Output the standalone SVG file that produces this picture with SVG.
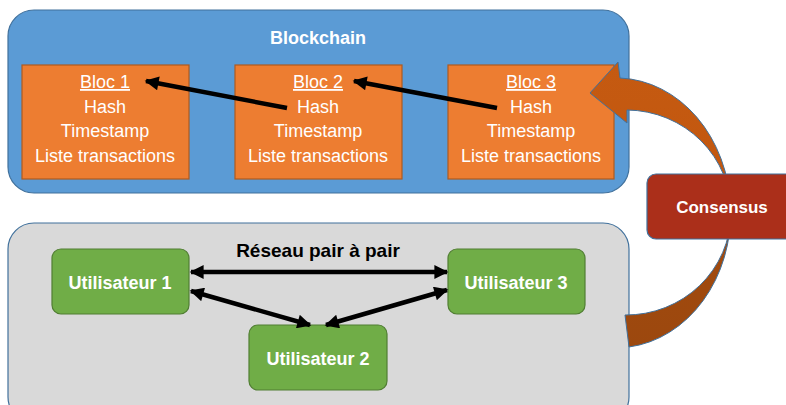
<svg xmlns="http://www.w3.org/2000/svg" width="786" height="405" viewBox="0 0 786 405">
<defs>
<style>
.cont{stroke:#41719C;stroke-width:1.2}
.bloc{fill:#ED7D31;stroke:#AE5A21;stroke-width:1.2}
.user{fill:#70AD47;stroke:#507E32;stroke-width:1.2}
.t{font-family:"Liberation Sans",Arial,sans-serif;fill:#fff;text-anchor:middle;font-size:18px}
.b{font-weight:bold}
.link{stroke:#000;stroke-width:4.5;fill:none}
</style>
<marker id="ah" viewBox="0 0 10 10" refX="9" refY="5" markerWidth="16" markerHeight="14" markerUnits="userSpaceOnUse" orient="auto-start-reverse">
<path d="M0,0 L10,5 L0,10 z" fill="#000"/>
</marker>
<linearGradient id="cg" x1="0" y1="0" x2="0" y2="1">
<stop offset="0" stop-color="#C55A11"/>
<stop offset="0.45" stop-color="#C2570F"/>
<stop offset="0.6" stop-color="#A24A0E"/>
<stop offset="1" stop-color="#9C480E"/>
</linearGradient>
</defs>

<g id="blockchain">
<rect class="cont" x="8" y="10" width="621" height="183" rx="26" fill="#5B9BD5"/>
<text class="t b" x="318" y="44">Blockchain</text>
</g>

<g id="bloc1">
<rect class="bloc" x="22" y="65" width="167" height="114"/>
<text class="t" x="105" y="88" text-decoration="underline">Bloc 1</text>
<text class="t" x="105" y="113">Hash</text>
<text class="t" x="105" y="137">Timestamp</text>
<text class="t" x="105" y="162">Liste transactions</text>
</g>
<g id="bloc2">
<rect class="bloc" x="235" y="65" width="167" height="114"/>
<text class="t" x="318" y="88" text-decoration="underline">Bloc 2</text>
<text class="t" x="318" y="113">Hash</text>
<text class="t" x="318" y="137">Timestamp</text>
<text class="t" x="318" y="162">Liste transactions</text>
</g>
<g id="bloc3">
<rect class="bloc" x="448" y="65" width="166" height="114"/>
<text class="t" x="531" y="88" text-decoration="underline">Bloc 3</text>
<text class="t" x="531" y="113">Hash</text>
<text class="t" x="531" y="137">Timestamp</text>
<text class="t" x="531" y="162">Liste transactions</text>
</g>

<g id="reseau">
<rect class="cont" x="8" y="223" width="621" height="200" rx="26" fill="#D9D9D9"/>
<text class="t b" x="318" y="257" fill="#000" style="fill:#000;font-size:19px">Réseau pair à pair</text>
</g>

<g id="u1">
<rect class="user" x="52" y="249" width="137" height="65" rx="9"/>
<text class="t b" x="120" y="289">Utilisateur 1</text>
</g>
<g id="u2">
<rect class="user" x="249" y="325" width="138" height="65" rx="9"/>
<text class="t b" x="318" y="365">Utilisateur 2</text>
</g>
<g id="u3">
<rect class="user" x="448" y="249" width="137" height="65" rx="9"/>
<text class="t b" x="516" y="289">Utilisateur 3</text>
</g>

<g id="connectors">
<line class="link" x1="287" y1="108" x2="146" y2="81" marker-end="url(#ah)"/>
<line class="link" x1="497" y1="108" x2="354" y2="81" marker-end="url(#ah)"/>
<line class="link" x1="191" y1="272" x2="447" y2="272" marker-start="url(#ah)" marker-end="url(#ah)"/>
<line class="link" x1="191" y1="291" x2="310" y2="325" marker-start="url(#ah)" marker-end="url(#ah)"/>
<line class="link" x1="447" y1="290" x2="326" y2="325" marker-start="url(#ah)" marker-end="url(#ah)"/>
<path id="curved-arrow" d="M629,347 A115,135 0 0 0 620,78 L618,62 L590,93 L627,123 L627,110 A105,102.5 0 0 1 625,315 Z" fill="url(#cg)" stroke="#41719C" stroke-width="1"/>
</g>

<g id="consensus">
<rect x="647" y="174" width="160" height="65" rx="9" fill="#AB2F1A" stroke="#41719C" stroke-width="1.2"/>
<text class="t b" x="722" y="213" style="font-size:17px">Consensus</text>
</g>
</svg>
